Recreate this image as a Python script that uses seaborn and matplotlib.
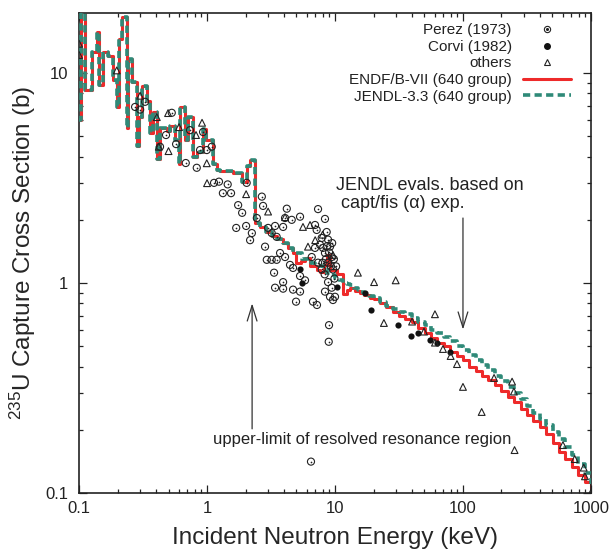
import matplotlib
matplotlib.use('Agg')
import matplotlib.pyplot as plt
import seaborn as sns
from matplotlib.lines import Line2D
from matplotlib.ticker import FuncFormatter, LogLocator, NullFormatter

# group cross sections (keV, b) - identical for both evaluations below ~2.2 keV
low_e = [0.098, 0.103, 0.111, 0.126, 0.137, 0.144, 0.155, 0.169, 0.185, 0.197,
         0.205, 0.215, 0.236, 0.243, 0.258, 0.282, 0.292, 0.309, 0.338, 0.359,
         0.381, 0.404, 0.429, 0.484, 0.513, 0.562, 0.600, 0.616, 0.674, 0.715,
         0.783, 0.831, 0.934, 0.990, 1.12, 1.19, 1.26, 1.60, 1.86, 2.04, 2.16]
low_xs = [6.0, 22.0, 8.3, 12.6, 15.7, 8.8, 12.6, 12.0, 9.3, 6.9,
          14.5, 18.6, 5.5, 11.7, 9.1, 4.5, 6.2, 8.7, 7.4, 5.2,
          6.5, 3.9, 5.5, 5.3, 5.6, 4.8, 3.7, 6.9, 4.8, 6.2,
          4.0, 4.2, 5.4, 4.8, 3.7, 3.45, 3.4, 3.35, 3.04, 3.6, 3.85]

endf_hi_e = [2.37, 2.6, 2.9, 3.2, 3.5, 3.9, 4.3, 4.7, 5.0, 5.4,
             5.8, 6.4, 7.2, 7.7, 8.2, 8.6, 9.2, 10.3, 11.5, 12.3,
             13.1, 14.3, 15.6, 17.0, 18.7,
             20, 22.4, 25.1, 28.2, 31.6, 35.5, 39.8, 44.7, 50.1, 56.2,
             63.1, 70.8, 79.4, 89.1, 100, 112, 126, 141, 158, 178,
             200, 224, 251, 282, 316, 355, 398, 447, 501, 562,
             631, 708, 794, 891, 1000]
endf_hi_xs = [1.93, 1.85, 1.75, 1.68, 1.62, 1.55, 1.47, 1.39, 1.25, 1.28,
              1.32, 1.2, 1.15, 1.13, 1.22, 1.36, 1.15, 1.1, 0.89, 0.93,
              0.95, 0.92, 0.9, 0.88, 0.85,
              0.84, 0.80, 0.77, 0.73, 0.70, 0.675, 0.65, 0.61, 0.58, 0.55,
              0.52, 0.50, 0.47, 0.45, 0.43, 0.40, 0.38, 0.36, 0.345, 0.325,
              0.305, 0.285, 0.27, 0.25, 0.235, 0.22, 0.205, 0.19, 0.172, 0.157,
              0.145, 0.133, 0.122, 0.113, 0.105]

jendl_hi_e = [2.37, 2.6, 2.9, 3.2, 3.5, 3.9, 4.3, 4.7, 5.5, 6.5,
              7.0, 7.5, 8.0, 8.6, 9.3, 10, 10.7, 11.5, 12.3, 13,
              14, 15, 16, 17, 18.5,
              20, 22.4, 25.1, 28.2, 31.6, 35.5, 39.8, 44.7, 50.1, 56.2,
              63.1, 70.8, 79.4, 89.1, 100, 112, 126, 141, 158, 178,
              200, 224, 251, 282, 316, 355, 398, 447, 501, 562,
              631, 708, 794, 891, 1000]
jendl_hi_xs = [1.93, 1.85, 1.75, 1.68, 1.62, 1.55, 1.47, 1.39, 1.30, 1.25,
               1.22, 1.2, 1.16, 1.12, 1.09, 1.06, 1.03, 1.0, 0.99, 0.98,
               0.95, 0.93, 0.91, 0.89, 0.87,
               0.85, 0.81, 0.78, 0.755, 0.73, 0.71, 0.68, 0.655, 0.63, 0.60,
               0.58, 0.555, 0.53, 0.50, 0.48, 0.455, 0.43, 0.405, 0.385, 0.36,
               0.34, 0.32, 0.30, 0.28, 0.26, 0.24, 0.225, 0.21, 0.195, 0.18,
               0.165, 0.152, 0.138, 0.125, 0.11]

# measurements
perez_e = [0.274, 0.30, 0.328, 0.429, 0.478, 0.530, 0.573, 0.682, 0.736, 0.831,
           0.882, 0.931, 0.995, 1.088, 1.134, 1.24, 1.33, 1.45, 1.54, 2.04,
           1.75, 1.88, 2.02, 2.17, 1.69, 2.68, 2.74, 2.45, 2.24, 3.0,
           3.2, 3.4, 3.5, 3.93, 4.2, 4.07, 4.59, 5.33, 7.37, 7.19,
           8.35, 6.98, 2.84, 3.72, 4.07, 2.93, 3.2, 3.5, 3.34, 4.45,
           4.7, 5.33, 5.83, 3.93, 3.4, 3.93, 4.7, 5.33, 6.58, 6.98,
           7.64, 8.06, 7.87, 8.61, 8.82, 9.14, 8.35, 9.42, 8.82, 9.64,
           8.82, 9.42, 8.35, 9.14, 10.0, 7.87, 7.37, 4.96, 6.73, 7.23,
           9.64, 8.98, 8.93, 6.49, 8.5, 9.0, 9.3, 8.7, 9.8, 8.0,
           9.5, 10.2, 8.3, 9.9]
perez_xs = [6.9, 6.7, 7.3, 4.46, 5.07, 6.47, 4.59, 3.73, 5.35, 3.54,
            4.30, 5.24, 4.30, 4.46, 3.0, 3.04, 2.68, 2.95, 2.68, 3.0,
            2.35, 2.16, 1.87, 1.60, 1.83, 2.58, 2.33, 2.04, 1.73, 1.83,
            1.73, 1.87, 1.66, 1.85, 2.26, 2.04, 2.0, 2.07, 2.25, 1.79,
            2.02, 1.89, 1.49, 1.39, 1.33, 1.29, 1.29, 1.29, 1.12, 1.22,
            1.18, 1.08, 1.03, 1.01, 0.95, 0.94, 0.93, 0.91, 1.33, 1.47,
            1.52, 1.47, 1.64, 1.75, 1.61, 1.49, 1.39, 1.33, 1.25, 1.16,
            1.01, 0.95, 0.91, 0.86, 0.86, 1.16, 1.25, 0.815, 0.815, 0.786,
            0.83, 0.63, 0.525, 0.141, 1.3, 1.4, 1.2, 1.5, 1.3, 1.25,
            1.55, 1.2, 1.1, 1.05]

corvi_e = [5.33, 5.5, 10.3, 17.1, 19.0, 31.1, 39.2, 44.5, 55.2, 62.2, 79.1]
corvi_xs = [1.16, 1.0, 0.96, 0.90, 0.74, 0.63, 0.56, 0.58, 0.535, 0.52, 0.47]

other_e = [0.1, 0.1, 0.197, 0.30, 0.405, 0.42, 0.496, 0.50, 0.604, 0.82,
           0.914, 0.995, 1.0, 2.02, 3.0, 4.07, 5.62, 6.38, 6.15, 9.64,
           15.1, 20.2, 29.8, 24.1, 40.0, 60.4, 49.6, 60.4, 69.8, 80.1,
           89.8, 100, 140, 175, 242, 250, 253, 604, 747, 878,
           898, 1000, 7.0, 8.0]
other_xs = [13.8, 12.2, 10.3, 7.8, 6.17, 4.46, 6.45, 4.25, 5.53, 5.07,
            5.8, 3.72, 2.99, 2.65, 2.19, 2.06, 1.85, 1.89, 1.49, 1.36,
            1.12, 1.01, 1.03, 0.645, 0.655, 0.71, 0.587, 0.52, 0.485, 0.449,
            0.411, 0.32, 0.243, 0.353, 0.339, 0.304, 0.16, 0.169, 0.145, 0.132,
            0.12, 0.1, 1.6, 1.7]

red = '#ee2a2a'
teal = '#2f8a78'
ink = '#222222'

sns.set_style('ticks')
plt.rcParams['font.family'] = ['Liberation Sans', 'DejaVu Sans']
plt.rcParams['mathtext.default'] = 'regular'
plt.rcParams['text.color'] = ink

fig, ax = plt.subplots(figsize=(6.13, 5.52), dpi=100)
fig.subplots_adjust(left=0.129, right=0.964, bottom=0.107, top=0.977)
ax.set_xscale('log')
ax.set_yscale('log')

sns.lineplot(x=low_e + endf_hi_e, y=low_xs + endf_hi_xs, ax=ax, color=red, lw=2.2,
             drawstyle='steps-post', estimator=None, sort=False, zorder=2)
sns.lineplot(x=low_e + jendl_hi_e, y=low_xs + jendl_hi_xs, ax=ax, color=teal, lw=2.6,
             drawstyle='steps-post', estimator=None, sort=False, zorder=3)
ax.lines[-1].set_dashes((2.0, 1.2))

sns.scatterplot(x=perez_e, y=perez_xs, ax=ax, marker='o', s=26, linewidth=0.8, zorder=4)
ax.collections[-1].set_facecolor('none')
ax.collections[-1].set_edgecolor(ink)
sns.scatterplot(x=perez_e, y=perez_xs, ax=ax, marker='o', s=1.5, color=ink, linewidth=0, zorder=4)
sns.scatterplot(x=corvi_e, y=corvi_xs, ax=ax, marker='o', s=20, color='#111111', linewidth=0, zorder=5)
sns.scatterplot(x=other_e, y=other_xs, ax=ax, marker='^', s=24, linewidth=0.8, zorder=5)
ax.collections[-1].set_facecolor('none')
ax.collections[-1].set_edgecolor(ink)

ax.set_xlim(0.1, 1000)
ax.set_ylim(0.1, 19.4)

fmt = FuncFormatter(lambda v, p: f'{v:g}')
for axis in (ax.xaxis, ax.yaxis):
    axis.set_major_locator(LogLocator(base=10))
    axis.set_major_formatter(fmt)
    axis.set_minor_locator(LogLocator(base=10, subs=range(2, 10)))
    axis.set_minor_formatter(NullFormatter())

ax.tick_params(which='both', direction='in', top=True, right=True, width=0.9, colors=ink, labelsize=12)
ax.tick_params(which='major', length=6)
ax.tick_params(which='minor', length=3.2)
ax.tick_params(axis='y', pad=8)
ax.tick_params(axis='x', pad=6)
for sp in ax.spines.values():
    sp.set_linewidth(1.2)
    sp.set_color(ink)

ax.set_xlabel('Incident Neutron Energy (keV)', fontsize=17.5, labelpad=8)
ax.set_ylabel('$^{235}$U Capture Cross Section (b)', fontsize=17.5)
ax.yaxis.set_label_coords(-0.08, 0.5)

# annotations
arrow = dict(arrowstyle='->,head_length=0.8,head_width=0.25', color='#333333', lw=0.9,
             shrinkA=0, shrinkB=0, mutation_scale=14)
ax.annotate('', xy=(2.25, 0.80), xytext=(2.25, 0.202), arrowprops=arrow)
ax.annotate('', xy=(100, 0.60), xytext=(100, 2.04), arrowprops=arrow)
ax.text(1.11, 0.179, 'upper-limit of resolved resonance region', fontsize=12, ha='left', va='center')
ax.text(10.2, 2.9, 'JENDL evals. based on', fontsize=13, ha='left', va='center')
ax.text(11.1, 2.38, 'capt/fis (\u03b1) exp.', fontsize=13, ha='left', va='center')

# legend: label first, marker after
h_perez = (Line2D([], [], ls='none', marker='o', ms=4.5, mfc='none', mec=ink, mew=0.8),
           Line2D([], [], ls='none', marker='o', ms=1.2, mfc=ink, mec=ink))
h_corvi = Line2D([], [], ls='none', marker='o', ms=4, mfc='#111111', mec='#111111')
h_other = Line2D([], [], ls='none', marker='^', ms=4.5, mfc='none', mec=ink, mew=0.8)
h_endf = Line2D([], [], color=red, lw=2.2)
h_jendl = Line2D([], [], color=teal, lw=2.6, dashes=(2.0, 1.2))
ax.legend([h_perez, h_corvi, h_other, h_endf, h_jendl],
          ['Perez (1973)', 'Corvi (1982)', 'others', 'ENDF/B-VII (640 group)', 'JENDL-3.3 (640 group)'],
          loc='upper right', bbox_to_anchor=(0.961, 0.978), frameon=False, markerfirst=False,
          fontsize=11, handlelength=3.15, handletextpad=0.72, labelspacing=0.17,
          borderpad=0, borderaxespad=0, handleheight=0.7)

fig.savefig('out.png', dpi=100)
